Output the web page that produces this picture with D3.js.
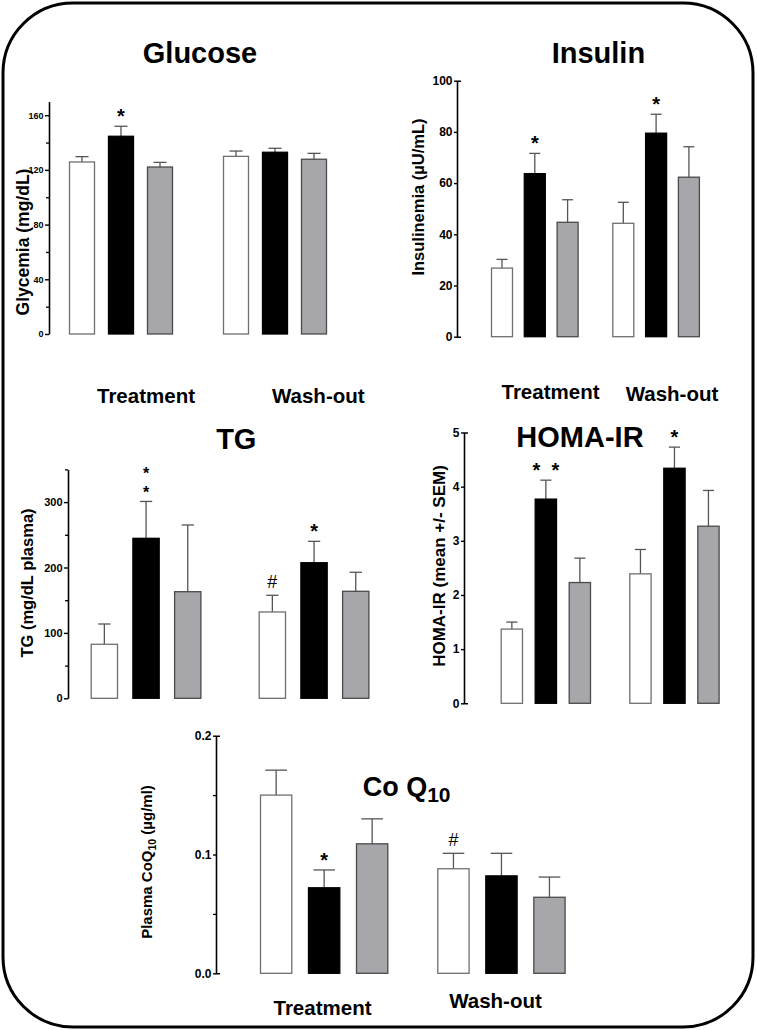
<!DOCTYPE html>
<html>
<head>
<meta charset="utf-8">
<script src="https://cdn.jsdelivr.net/npm/d3@7"></script>
<style>
  body { margin: 0; background: #fff; }
  svg text { font-family: "Liberation Sans", Arial, sans-serif; font-weight: bold; fill: #000; }
</style>
</head>
<body>
<svg id="chart" width="757" height="1030"></svg>
<script>
// ---------------- DATA ----------------
const groups = ["Treatment", "Wash-out"];
const series = ["Group A", "Group B", "Group C"];

const glucoseMean = [[125.8, 144.6, 122.1], [129.9, 132.9, 127.8]];
const glucoseSem  = [[3.9, 7.3, 3.4], [3.9, 2.9, 4.3]];
const insulinMean = [[26.8, 63.7, 44.7], [44.3, 79.5, 62.3]];
const insulinSem  = [[3.4, 7.9, 8.8], [8.2, 7.4, 11.9]];
const tgMean      = [[82.6, 244.6, 163.0], [132.0, 207.3, 163.6]];
const tgSem       = [[31.0, 56.4, 102.0], [25.5, 32.7, 29.1]];
const homaMean    = [[1.37, 3.77, 2.23], [2.39, 4.34, 3.27]];
const homaSem     = [[0.13, 0.35, 0.45], [0.45, 0.39, 0.66]];
const coqMean     = [[0.150, 0.072, 0.109], [0.088, 0.082, 0.064]];
const coqSem      = [[0.021, 0.015, 0.021], [0.013, 0.019, 0.017]];

const glucoseTicks = [0, 40, 80, 120, 160];
const glucoseMinor = [20, 60, 100, 140];
const insulinTicks = [0, 20, 40, 60, 80, 100];
const tgTicks = [0, 100, 200, 300];
const tgMinor = [50, 150, 250, 350];
const homaTicks = [0, 1, 2, 3, 4, 5];
const coqTicks = [0, 0.1, 0.2];
const coqMinor = [0.05, 0.15];

const glucoseMarks = [{g: 0, s: 1, lines: ["*"]}];
const insulinMarks = [{g: 0, s: 1, lines: ["*"]}, {g: 1, s: 1, lines: ["*"]}];
const tgMarks = [{g: 0, s: 1, lines: ["*", "*"]}, {g: 1, s: 0, lines: ["#"]}, {g: 1, s: 1, lines: ["*"]}];
const homaMarks = [{g: 0, s: 1, lines: ["*  *"]}, {g: 1, s: 1, lines: ["*"]}];
const coqMarks = [{g: 0, s: 1, lines: ["*"]}, {g: 1, s: 0, lines: ["#"]}];

// ---------------- STYLE ----------------
const fills = ["#ffffff", "#000000", "#a7a6ab"];
const strokes = ["#6f6f6f", "#000000", "#4a4a4a"];

const svg = d3.select("#chart");

// frame
svg.append("rect")
  .attr("x", 3).attr("y", 3).attr("width", 750).attr("height", 1024)
  .attr("rx", 70).attr("ry", 70)
  .attr("fill", "none").attr("stroke", "#000").attr("stroke-width", 3);

function panel(cfg) {
  const g = svg.append("g");
  const y = d3.scaleLinear().domain(cfg.domain).range(cfg.yRange);
  const outer = d3.scaleBand().domain(groups)
    .range([cfg.x0, cfg.x0 + 2 * cfg.groupStep]);
  const inner = d3.scaleBand().domain(series)
    .range([0, 2 * cfg.barStep + cfg.bw])
    .paddingInner(1 - cfg.bw / cfg.barStep).paddingOuter(0);

  // axis
  const axis = d3.axisLeft(y).tickValues(cfg.ticks).tickFormat(d3.format(cfg.fmt))
    .tickSize(cfg.tickLen).tickSizeOuter(cfg.outer).tickPadding(1.5);
  const ax = g.append("g").attr("transform", `translate(${cfg.axisX},0)`).call(axis);
  ax.select(".domain").attr("stroke", "#000").attr("stroke-width", 1.6);
  ax.selectAll(".tick line").attr("stroke", "#000").attr("stroke-width", 1.4);
  ax.selectAll(".tick text").style("font-size", cfg.tickFont + "px").attr("fill", "#000");
  if (cfg.minor) {
    const mAxis = d3.axisLeft(y).tickValues(cfg.minor).tickFormat("").tickSize(3).tickSizeOuter(0);
    const mx = g.append("g").attr("transform", `translate(${cfg.axisX},0)`).call(mAxis);
    mx.select(".domain").remove();
    mx.selectAll(".tick line").attr("stroke", "#000").attr("stroke-width", 1.3);
  }

  // bars
  const rows = [];
  cfg.mean.forEach((arr, gi) => arr.forEach((v, si) => rows.push({
    g: groups[gi], s: series[si], si, v, e: cfg.sem[gi][si]
  })));
  const x = d => outer(d.g) + inner(d.s);

  // error bars (drawn before bars)
  const eb = g.append("g").attr("stroke", "#555").attr("stroke-width", 1.3).attr("fill", "none");
  const capW = cfg.bw * cfg.capFrac;
  rows.forEach(d => {
    const cx = x(d) + cfg.bw / 2;
    eb.append("line").attr("x1", cx).attr("x2", cx).attr("y1", y(d.v)).attr("y2", y(d.v + d.e));
    eb.append("line").attr("x1", cx - capW / 2).attr("x2", cx + capW / 2)
      .attr("y1", y(d.v + d.e)).attr("y2", y(d.v + d.e));
  });

  g.append("g").selectAll("rect").data(rows).join("rect")
    .attr("x", d => x(d) + 0.5)
    .attr("y", d => y(d.v))
    .attr("width", cfg.bw - 1)
    .attr("height", d => y(0) - y(d.v))
    .attr("fill", d => fills[d.si])
    .attr("stroke", d => strokes[d.si])
    .attr("stroke-width", 1.3);

  // annotations
  cfg.marks.forEach(m => {
    const gName = groups[m.g], sName = series[m.s];
    const cx = outer(gName) + inner(sName) + cfg.bw / 2;
    const top = y(cfg.mean[m.g][m.s] + cfg.sem[m.g][m.s]);
    const isHash = m.lines[0] === "#";
    const stacked = m.lines.length > 1;
    const fs = isHash ? 18 : (stacked ? 16 : 20);
    m.lines.forEach((line, i) => {
      const k = m.lines.length - 1 - i;
      g.append("text")
        .attr("x", cx).attr("y", top - (isHash ? 7 : 3) - k * 19.5)
        .attr("text-anchor", "middle")
        .style("font-size", fs + "px")
        .style("font-weight", isHash ? "normal" : "bold")
        .style("white-space", "pre")
        .text(line);
    });
  });

  // y label
  const lab = g.append("text")
    .attr("transform", `translate(${cfg.labelX},${cfg.labelY}) rotate(-90)`)
    .attr("text-anchor", "middle")
    .style("font-size", cfg.labelFont + "px");
  if (cfg.labelParts) {
    cfg.labelParts.forEach(p => {
      const ts = lab.append("tspan").text(p.t);
      if (p.sub) ts.attr("dy", 4).style("font-size", (cfg.labelFont * 0.7) + "px");
      if (p.unsub) ts.attr("dy", -4);
    });
  } else {
    lab.text(cfg.label);
  }

  // title
  if (cfg.title) {
    g.append("text").attr("x", cfg.titleX).attr("y", cfg.titleY)
      .attr("text-anchor", "middle").style("font-size", "29px").text(cfg.title);
  }
  // category labels
  if (cfg.cats) {
    cfg.cats.forEach((c, i) => {
      g.append("text").attr("x", c[0]).attr("y", c[1])
        .attr("text-anchor", "middle").style("font-size", "20.5px").text(groups[i]);
    });
  }
  return g;
}

panel({
  mean: glucoseMean, sem: glucoseSem, marks: glucoseMarks,
  domain: [0, 170], yRange: [334, 334 - 170 * 1.3675],
  ticks: glucoseTicks, minor: glucoseMinor, fmt: "d", tickLen: 4, outer: 0, tickFont: 9,
  axisX: 49, x0: 69, groupStep: 154, barStep: 39, bw: 26, capFrac: 0.5,
  label: "Glycemia (mg/dL)", labelX: 29, labelY: 242, labelFont: 17.5,
  title: "Glucose", titleX: 200, titleY: 63,
  cats: [[146, 402.5], [318.3, 403.3]]
});

panel({
  mean: insulinMean, sem: insulinSem, marks: insulinMarks,
  domain: [0, 100], yRange: [336.7, 80.7],
  ticks: insulinTicks, fmt: "d", tickLen: 3, outer: -4, tickFont: 12,
  axisX: 457, x0: 491, groupStep: 121.3, barStep: 32.8, bw: 22, capFrac: 0.5,
  label: "Insulinemia (\u00b5U/mL)", labelX: 423.5, labelY: 197, labelFont: 16.5,
  title: "Insulin", titleX: 598.4, titleY: 63.3,
  cats: [[550.5, 399.3], [672, 400.7]]
});

panel({
  mean: tgMean, sem: tgSem, marks: tgMarks,
  domain: [0, 350], yRange: [698.3, 698.3 - 350 * 0.654],
  ticks: tgTicks, minor: tgMinor, fmt: "d", tickLen: 4, outer: 0, tickFont: 11,
  axisX: 68, x0: 90.7, groupStep: 168, barStep: 41.7, bw: 27.3, capFrac: 0.45,
  label: "TG (mg/dL plasma)", labelX: 33, labelY: 583, labelFont: 16.5,
  title: "TG", titleX: 236.3, titleY: 449
});

panel({
  mean: homaMean, sem: homaSem, marks: homaMarks,
  domain: [0, 5], yRange: [703.3, 432.5],
  ticks: homaTicks, fmt: "d", tickLen: 3, outer: -4, tickFont: 12,
  axisX: 464, x0: 500.7, groupStep: 128.6, barStep: 34, bw: 22.3, capFrac: 0.5,
  label: "HOMA-IR (mean +/- SEM)", labelX: 445, labelY: 566, labelFont: 17,
  title: "HOMA-IR", titleX: 580, titleY: 447.3
});

const coqPanel = panel({
  mean: coqMean, sem: coqSem, marks: coqMarks,
  domain: [0, 0.2], yRange: [973.3, 735.7],
  ticks: coqTicks, minor: coqMinor, fmt: ".1f", tickLen: 3, outer: -4, tickFont: 12,
  axisX: 216, x0: 260, groupStep: 177.3, barStep: 48, bw: 32.3, capFrac: 0.67,
  labelParts: [{t: "Plasma CoQ"}, {t: "10", sub: true}, {t: " (\u00b5g/ml)", unsub: true}],
  labelX: 152, labelY: 862, labelFont: 15,
  cats: [[322.5, 1015], [495.5, 1008.3]]
});

// Co Q10 title with subscript
const ct = coqPanel.append("text").attr("x", 362.7).attr("y", 796).style("font-size", "27px");
ct.append("tspan").text("Co Q");
ct.append("tspan").attr("dy", 6).style("font-size", "21px").text("10");
</script>
</body>
</html>
